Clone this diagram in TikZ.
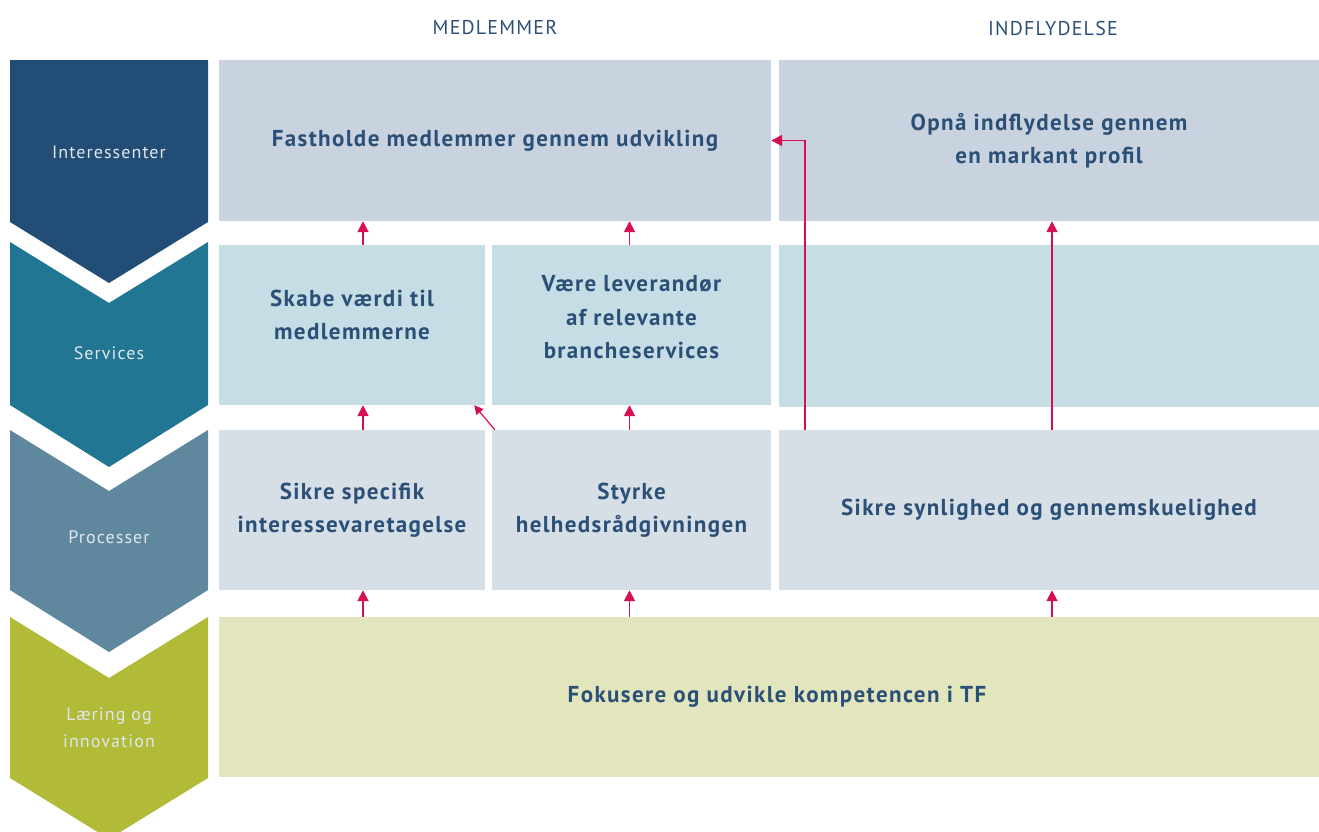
\documentclass[tikz,border=0pt]{standalone}
\usepackage{fontspec}
\setmainfont{PT Sans}[LetterSpace=6]
\usepackage{xcolor}
\usetikzlibrary{arrows.meta,calc}

\definecolor{tfdark}{HTML}{214D76}
\definecolor{tfteal}{HTML}{217693}
\definecolor{tfgrey}{HTML}{5F889F}
\definecolor{tfolive}{HTML}{B1BB37}
\definecolor{boxdark}{HTML}{C9D3DF}
\definecolor{boxteal}{HTML}{C6DDE5}
\definecolor{boxgrey}{HTML}{D6DEE6}
\definecolor{boxolive}{HTML}{E3E6BD}
\definecolor{tftext}{HTML}{2B5078}
\definecolor{tflabel}{HTML}{DFE6EE}
\definecolor{tfred}{HTML}{D5104F}

\tikzset{
	goal/.style={inner sep=0pt, align=center, text=tftext, font=\fontsize{23}{33.5}\selectfont\bfseries, minimum height=161pt},
	stage/.style={align=center, text=tflabel, font=\fontsize{18}{27}\selectfont},
	column/.style={text=tftext, font=\fontsize{20}{24}\selectfont},
	pil/.style={draw=tfred, line width=1.8pt, -{Triangle[length=11pt,width=11pt]}}
}

\begin{document}
\begin{tikzpicture}[x=1pt, y=-1pt]
				\useasboundingbox (0, 0) rectangle (1319, 831);
				
				%Columns
				\node[column] (med) at (495, 28) {MEDLEMMER};
				\node[column] (ind) at (1053, 28) {INDFLYDELSE};
				
				%Chevrons
				\fill[tfdark] (10, 60) -- (208, 60) -- (208, 222) -- (109, 283) -- (10, 222) -- cycle;
				\fill[tfteal] (10, 242) -- (109, 303) -- (208, 242) -- (208, 405) -- (109, 467) -- (10, 405) -- cycle;
				\fill[tfgrey] (10, 430) -- (109, 491) -- (208, 430) -- (208, 590) -- (109, 652) -- (10, 590) -- cycle;
				\fill[tfolive] (10, 617) -- (109, 678) -- (208, 617) -- (208, 778) -- (109, 839) -- (10, 778) -- cycle;
				\node[stage] (int) at (109, 152) {Interessenter};
				\node[stage] (ser) at (109, 353) {Services};
				\node[stage] (pro) at (109, 537) {Processer};
				\node[stage] (lae) at (109, 728) {Læring og\\innovation};
				
				%Level 1
				\node[goal, fill=boxdark, minimum width=552pt] (fa) at (495, 140.5) {Fastholde medlemmer gennem udvikling};
				\node[goal, fill=boxdark, minimum width=540pt] (op) at (1049, 140.5) {Opnå indflydelse gennem\\en markant profil};
				
				%Level 2
				\node[goal, fill=boxteal, minimum width=266pt, minimum height=160pt, text depth=20pt] (sk) at (352, 325) {Skabe værdi til\\medlemmerne};
				\node[goal, fill=boxteal, minimum width=279pt, minimum height=160pt, text depth=16pt] (va) at (631.5, 325) {Være leverandør\\af relevante\\brancheservices};
				\node[goal, fill=boxteal, minimum width=540pt, minimum height=162pt] (tom) at (1049, 326) {};
				
				%Level 3
				\node[goal, fill=boxgrey, minimum width=266pt, minimum height=160pt] (si) at (352, 510) {Sikre specifik\\interessevaretagelse};
				\node[goal, fill=boxgrey, minimum width=279pt, minimum height=160pt] (st) at (631.5, 510) {Styrke\\helhedsrådgivningen};
				\node[goal, fill=boxgrey, minimum width=540pt, minimum height=160pt] (sy) at (1049, 510) {Sikre synlighed og gennemskuelighed};
				
				%Level 4
				\node[goal, fill=boxolive, minimum width=1100pt, minimum height=160pt] (fo) at (769, 697) {\hspace*{16pt}Fokusere og udvikle kompetencen i TF};
				
				%Lines
				\draw[pil] ([xshift=11]sk.north) -- ([xshift=11]sk.north |- fa.south);
				\draw[pil] ([xshift=-2]va.north) -- ([xshift=-2]va.north |- fa.south);
				\draw[pil] ([xshift=11]si.north) -- ([xshift=11]sk.south);
				\draw[pil] ([xshift=-2]st.north) -- ([xshift=-2]va.south);
				\draw[pil, line width=1.2pt, -{Triangle[length=9pt,width=9pt]}] ([xshift=3]st.north west) -- ([xshift=-11]sk.south east);
				\draw[pil] ([xshift=26]sy.north west) |- (fa.east);
				\draw[pil] ([xshift=3]sy.north) -- ([xshift=3]op.south);
				\draw[pil] ($(si.south |- fo.north)+(11, 0)$) -- ([xshift=11]si.south);
				\draw[pil] ($(st.south |- fo.north)+(-2, 0)$) -- ([xshift=-2]st.south);
				\draw[pil] ($(sy.south |- fo.north)+(3, 0)$) -- ([xshift=3]sy.south);
			\end{tikzpicture}
\end{document}
